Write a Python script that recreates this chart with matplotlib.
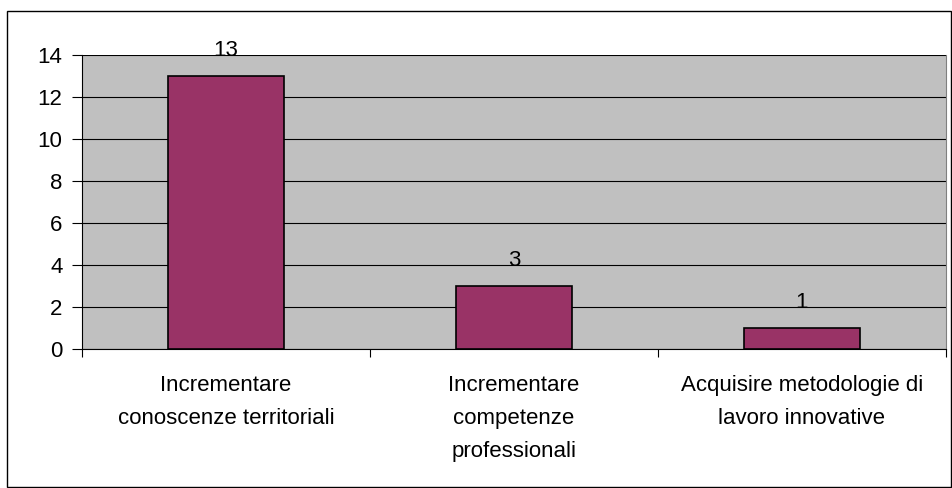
import matplotlib.pyplot as plt
from matplotlib.patches import Rectangle

plt.rcParams['font.family'] = ['Liberation Sans', 'DejaVu Sans']

categorie = ['Incrementare\nconoscenze territoriali',
             'Incrementare\ncompetenze\nprofessionali',
             'Acquisire metodologie di\nlavoro innovative']
valori = [13, 3, 1]

fs = 16

fig = plt.figure(figsize=(9.53, 4.88), dpi=100)
# cornice esterna del grafico
fig.patches.append(Rectangle((7 / 953, 0.002), 944 / 953, 1 - 11 / 488 - 0.002,
                             transform=fig.transFigure, fill=False,
                             edgecolor='black', linewidth=1))
ax = fig.add_axes([82 / 953, 1 - 349 / 488, 864 / 953, 294 / 488])
ax.set_facecolor('#C0C0C0')

x = range(len(valori))
ax.bar(x, valori, width=0.4, color='#993366', edgecolor='black', linewidth=1.2, zorder=3)
for xi, v in zip(x, valori):
    ax.annotate(str(v), (xi, v), xytext=(0, 11), textcoords='offset points',
                ha='center', va='bottom', fontsize=fs)

ax.set_xlim(-0.5, len(valori) - 0.5)
ax.set_ylim(0, 14)
ax.set_yticks(range(0, 15, 2))
ax.yaxis.grid(True, color='black', linewidth=0.8, zorder=1)
ax.set_axisbelow(True)

# tacche sui confini tra le categorie, etichette al centro
ax.set_xticks([i - 0.5 for i in range(len(valori) + 1)])
ax.set_xticklabels([])
ax.set_xticks(list(x), minor=True)
ax.set_xticklabels(categorie, minor=True, fontsize=fs, linespacing=1.75)
ax.tick_params(axis='x', which='minor', length=0, pad=19)
ax.tick_params(axis='x', which='major', length=6, width=0.8)
ax.tick_params(axis='y', length=7, width=0.8, labelsize=fs, pad=7)

ax.spines['top'].set_visible(False)
ax.spines['right'].set_color('#808080')
ax.spines['left'].set_linewidth(0.8)
ax.spines['bottom'].set_linewidth(0.8)

plt.savefig('out.png')
